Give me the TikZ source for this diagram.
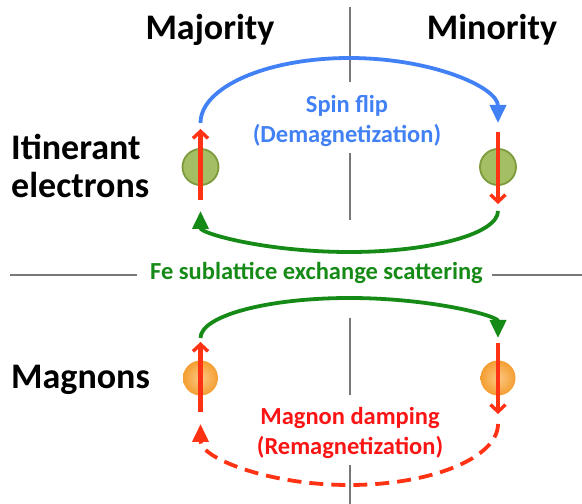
\documentclass[tikz,border=0pt]{standalone}
\usepackage{fontspec}
\setmainfont{Carlito}
\usetikzlibrary{arrows.meta}
\definecolor{cblue}{RGB}{66,129,245}
\definecolor{cgreen}{RGB}{22,138,22}
\definecolor{cred}{RGB}{255,50,20}
\definecolor{ctxtred}{RGB}{250,20,20}
\definecolor{olivefill}{RGB}{164,190,100}
\definecolor{oliveedge}{RGB}{125,154,60}
\definecolor{sepgray}{RGB}{120,120,120}
\tikzset{
  sep/.style={draw=sepgray, line width=1.1pt},
  bigtxt/.style={font=\fontsize{36}{40}\selectfont\bfseries, inner sep=0pt},
  lbl/.style={font=\fontsize{24.5}{27}\selectfont\bfseries, inner sep=0pt},
  ecirc/.style={circle, minimum size=36pt, inner sep=0pt, fill=olivefill, draw=oliveedge, line width=1.8pt},
  mcirc/.style={circle, minimum size=35pt, inner sep=0pt, shading=radial, inner color={rgb,255:red,252;green,200;blue,130}, outer color={rgb,255:red,244;green,158;blue,50}},
  spin/.style={draw=cred, line width=4.4pt, -{Straight Barb[length=7pt,width=15pt,line width=3.4pt]}},
  flow/.style={line width=3.8pt, -{Triangle[length=18pt,width=16pt]}},
}
\begin{document}
\begin{tikzpicture}[x=1pt,y=1pt]
\useasboundingbox (0,0) rectangle (582,504);
% separators
\draw[sep] (350,497) -- (350,422);
\draw[sep] (350,351) -- (350,284);
\draw[sep] (350,186) -- (350,109);
\draw[sep] (350,39) -- (350,0);
\draw[sep] (10,229) -- (137,229);
\draw[sep] (492,229) -- (582,229);
% headers
\node[bigtxt] (maj) at (210,474) {Majority};
\node[bigtxt] (min) at (492,474) {Minority};
\node[bigtxt, anchor=west] (itin) at (11,357) {Itinerant};
\node[bigtxt, anchor=west] (elec) at (11,319) {electrons};
\node[bigtxt, anchor=west] (magn) at (11,124) {Magnons};
% labels
\node[lbl, text=cblue] (sf) at (347,398) {Spin flip};
\node[lbl, text=cblue] (dm) at (347,369) {(Demagnetization)};
\node[lbl, text=cgreen] (fe) at (316.5,231) {Fe sublattice exchange scattering};
\node[lbl, text=ctxtred] (md) at (350,86) {Magnon damping};
\node[lbl, text=ctxtred] (rm) at (350,57) {(Remagnetization)};
% circles
\node[ecirc] (eL) at (200.5,337) {};
\node[ecirc] (eR) at (498,337) {};
\node[mcirc] (mL) at (200.5,126) {};
\node[mcirc] (mR) at (498,126) {};
% spin arrows
\coordinate (eLa) at (200.5,304); \coordinate (eLb) at (200.5,375);
\coordinate (eRa) at (498,372); \coordinate (eRb) at (498,300);
\coordinate (mLa) at (200.5,92); \coordinate (mLb) at (200.5,162);
\coordinate (mRa) at (498,161); \coordinate (mRb) at (498,90);
\draw[spin] (eLa) -- (eLb);
\draw[spin] (eRa) -- (eRb);
\draw[spin] (mLa) -- (mLb);
\draw[spin] (mRa) -- (mRb);
% flows
\coordinate (b1) at (200.5,381);
\draw[flow, draw=cblue] (b1) arc[start angle=180, end angle=0, x radius=148.75, y radius=65];
\coordinate (g1) at (498,293);
\draw[flow, draw=cgreen] (g1) arc[start angle=0, end angle=-180, x radius=148.75, y radius=41];
\coordinate (g2) at (200.5,166);
\draw[flow, draw=cgreen] (g2) arc[start angle=180, end angle=0, x radius=148.75, y radius=40];
\coordinate (r1) at (498,80);
\draw[flow, draw=cred, dash pattern=on 14pt off 8pt] (r1) arc[start angle=0, end angle=-180, x radius=148.75, y radius=61];
\end{tikzpicture}
\end{document}
